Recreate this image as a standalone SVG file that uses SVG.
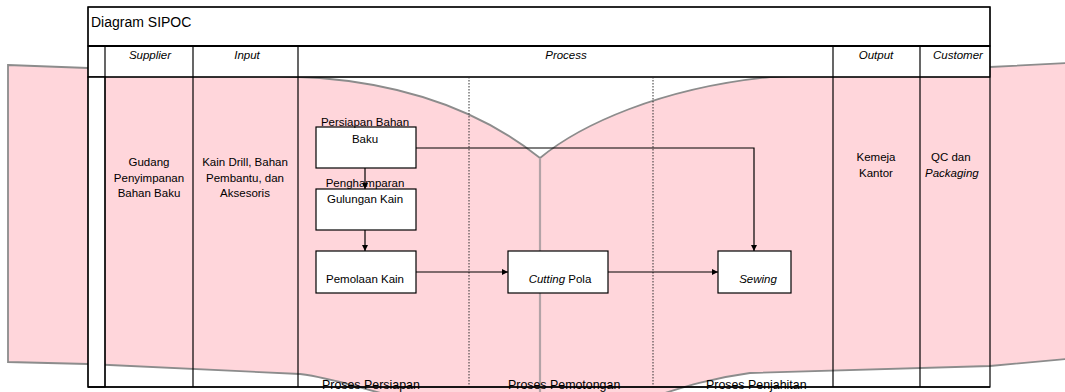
<svg xmlns="http://www.w3.org/2000/svg" width="1065" height="392" viewBox="0 0 1065 392">
<style>
.t{font-family:"Liberation Sans",Arial,sans-serif;font-size:11.5px;fill:#000}
.c{text-anchor:middle}
.i{font-style:italic}
.cell{fill:#fff;stroke:#000;stroke-width:1.2}
.ln{stroke:#000;stroke-width:1.2;fill:none}
.dot{stroke:#333;stroke-width:1;stroke-dasharray:1.5 1.5;fill:none}
.box{fill:#fff;stroke:#000;stroke-width:1.2}
.con{stroke:#000;stroke-width:1.2;fill:none;marker-end:url(#ah)}
</style>
<defs>
<marker id="ah" markerUnits="userSpaceOnUse" markerWidth="7" markerHeight="7" refX="6" refY="3" orient="auto">
<path d="M0,0 L6,3 L0,6 Z" fill="#000"/>
</marker>
</defs>
<rect width="1065" height="392" fill="#fff"/>
<g id="page">
<path d="M8 65 L88 68 L320 78 C420 86 490 118 540 158 C580 125 660 88 770 77 L990 67 L1066 63 L1066 359 L990 366 L750 373 C712 378 684 387 652 397 L400 397 C368 392 340 379 300 374 L88 364 L8 362 Z" fill="#ffd6db" stroke="#8c8c8c" stroke-width="1.8"/>
<line x1="540" y1="158" x2="540" y2="392" stroke="#b3a3a7" stroke-width="2.2"/>
</g>
<g id="table">
<rect class="cell" x="88" y="7" width="902" height="39"/>
<rect class="cell" x="88" y="46" width="902" height="31"/>
<rect class="cell" x="88" y="77" width="17" height="310"/>
<rect x="88" y="7" width="902" height="380" class="ln"/>
<line x1="88" y1="46" x2="990" y2="46" stroke="#000" stroke-width="2"/>
<line class="ln" x1="88" y1="77" x2="990" y2="77"/>
<line class="ln" x1="105" y1="46" x2="105" y2="387"/>
<line class="ln" x1="193" y1="46" x2="193" y2="387"/>
<line class="ln" x1="298" y1="46" x2="298" y2="387"/>
<line class="ln" x1="833" y1="46" x2="833" y2="387"/>
<line class="ln" x1="920" y1="46" x2="920" y2="387"/>
<line class="dot" x1="469" y1="77" x2="469" y2="387"/>
<line class="dot" x1="653" y1="77" x2="653" y2="387"/>
<line x1="88" y1="387" x2="990" y2="387" stroke="#000" stroke-width="1.6"/>
<text class="t" x="91" y="27" style="font-size:14px">Diagram SIPOC</text>
<text class="t c i" x="150" y="59">Supplier</text>
<text class="t c i" x="247" y="59">Input</text>
<text class="t c i" x="566" y="59">Process</text>
<text class="t c i" x="876" y="59">Output</text>
<text class="t c i" x="958" y="59">Customer</text>
<text class="t c" x="149" y="166">Gudang</text>
<text class="t c" x="149" y="182">Penyimpanan</text>
<text class="t c" x="149" y="197">Bahan Baku</text>
<text class="t c" x="245" y="166">Kain Drill, Bahan</text>
<text class="t c" x="245" y="182">Pembantu, dan</text>
<text class="t c" x="245" y="197">Aksesoris</text>
<text class="t c" x="876" y="161">Kemeja</text>
<text class="t c" x="876" y="177">Kantor</text>
<text class="t" x="931" y="161">QC dan</text>
<text class="t i" x="925" y="177">Packaging</text>
<text class="t" x="322" y="389" style="font-size:12.4px">Proses Persiapan</text>
<text class="t" x="508" y="389" style="font-size:12.4px">Proses Pemotongan</text>
<text class="t" x="706" y="389" style="font-size:12.4px">Proses Penjahitan</text>
</g>
<g id="n1">
<rect class="box" x="316" y="127" width="100" height="41"/>
<text class="t c" x="365" y="126">Persiapan Bahan</text>
<text class="t c" x="365" y="143">Baku</text>
</g>
<g id="n2">
<rect class="box" x="316" y="189" width="100" height="41"/>
<text class="t c" x="365" y="187">Penghamparan</text>
<text class="t c" x="365" y="203">Gulungan Kain</text>
</g>
<g id="n3">
<rect class="box" x="316" y="251" width="100" height="42"/>
<text class="t c" x="365" y="283">Pemolaan Kain</text>
</g>
<g id="n4">
<rect class="box" x="508" y="251" width="100" height="42"/>
<text class="t c" x="560" y="283"><tspan class="i">Cutting</tspan> Pola</text>
</g>
<g id="n5">
<rect class="box" x="718" y="251" width="73" height="42"/>
<text class="t c i" x="758" y="283">Sewing</text>
</g>
<g id="connectors">
<path class="con" d="M416 148 H754 V251"/>
<path class="con" d="M365 168 V189"/>
<path class="con" d="M365 230 V251"/>
<path class="con" d="M416 272 H508"/>
<path class="con" d="M608 272 H718"/>
</g>
</svg>
